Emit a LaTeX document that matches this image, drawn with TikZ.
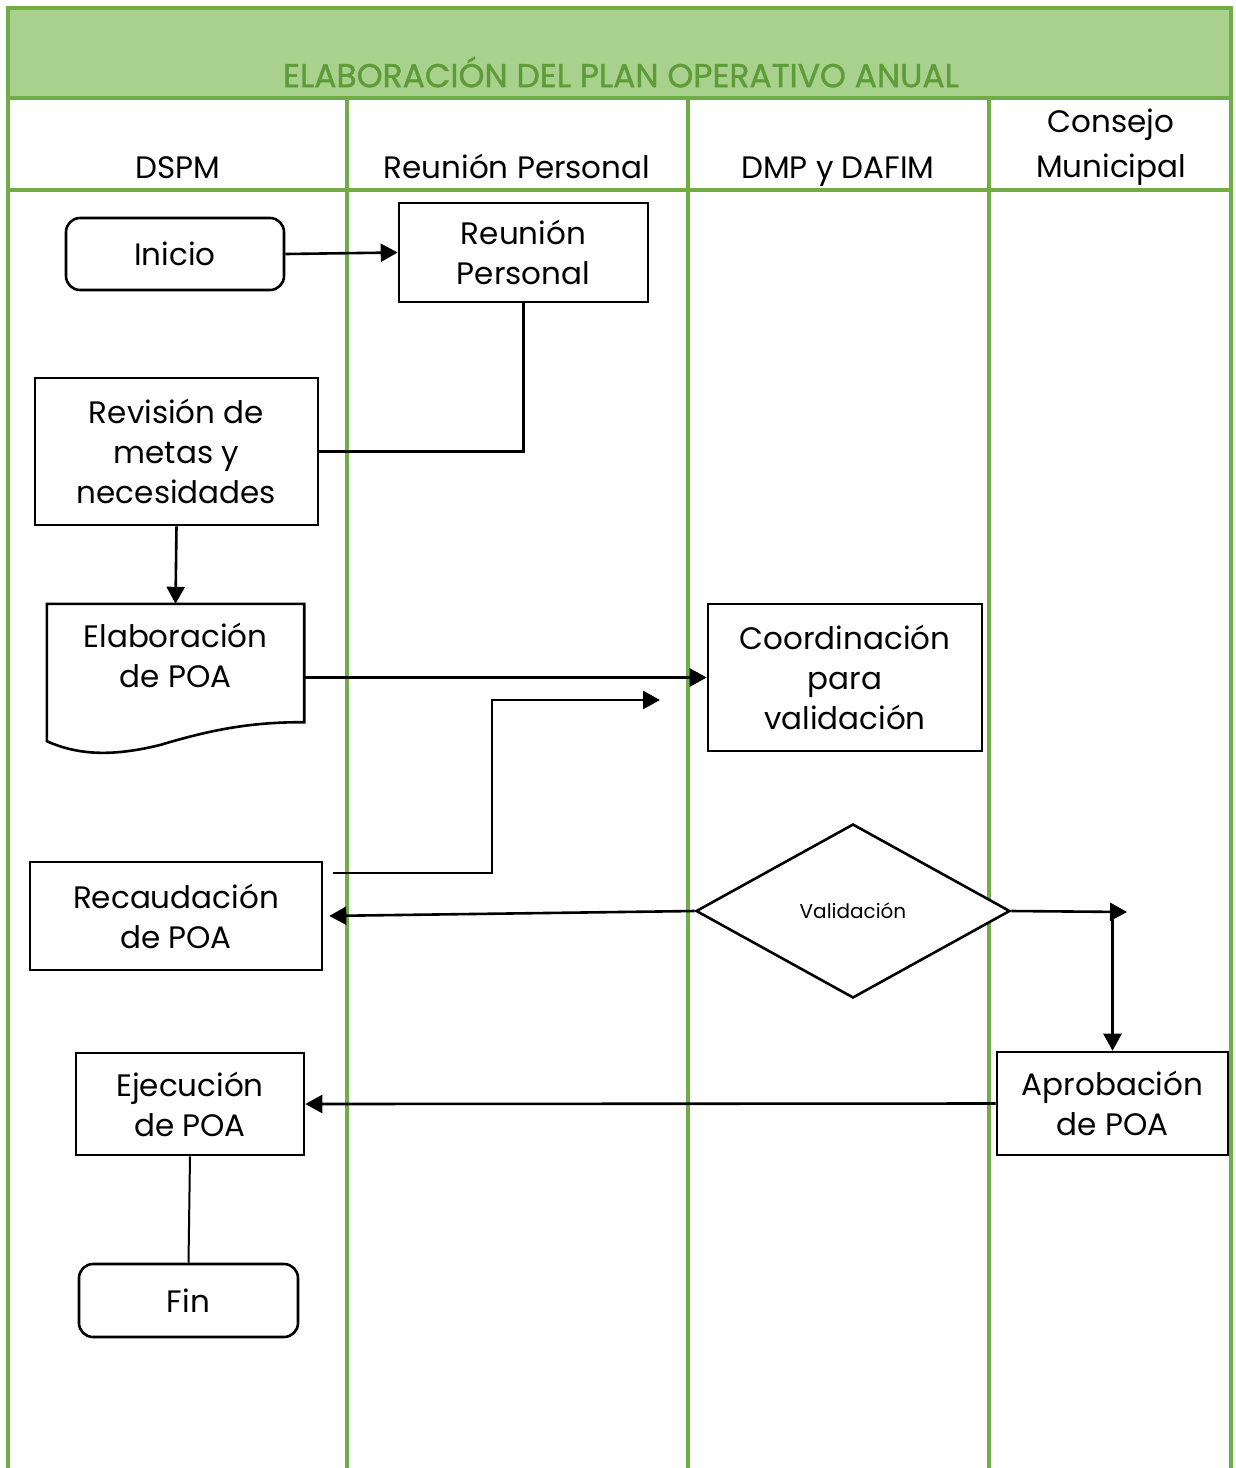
\documentclass[tikz,border=0pt]{standalone}
\usepackage{fontspec}
\setmainfont{Poppins}
\newfontfamily\titlefont[FakeBold=1.2]{Poppins}
\usetikzlibrary{arrows.meta,shapes.geometric}
\definecolor{lanegreen}{HTML}{70AD47}
\definecolor{bandgreen}{HTML}{A9D18E}
\definecolor{titlegreen}{HTML}{5E9C38}

\begin{document}
\begin{tikzpicture}[x=1pt,y=-1pt,
  lane/.style={draw=lanegreen,line width=4pt},
  txt/.style={font=\fontsize{31}{40}\selectfont,align=center},
  box/.style={txt,draw,fill=white,line width=2.6pt,inner sep=0pt},
  term/.style={box,rounded corners=14pt},
  flow/.style={line width=2.6pt,-{Triangle[length=17pt,width=18pt]}},
  link/.style={line width=2.6pt}]
\useasboundingbox (0,0) rectangle (1235,1468);
\fill[white] (0,0) rectangle (1235,1468);

% swimlane frame
\fill[bandgreen] (8,8) rectangle (1231,98);
\draw[lane] (6,8) -- (1233,8);
\draw[lane] (8,98) -- (1231,98);
\draw[lane] (8,190) -- (1231,190);
\draw[lane] (8,6) -- (8,1468);
\draw[lane] (1231,6) -- (1231,1468);
\draw[lane] (347,98) -- (347,1468);
\draw[lane] (688,98) -- (688,1468);
\draw[lane] (989,98) -- (989,1468);

\node[font=\titlefont\fontsize{33}{38}\selectfont,text=titlegreen] (title) at (621,72) {ELABORACIÓN DEL PLAN OPERATIVO ANUAL};

% lane headings
\node[txt,anchor=base] (h1) at (178,178) {DSPM};
\node[txt,anchor=base] (h2) at (517,178) {Reunión Personal};
\node[txt,anchor=base] (h3) at (838,178) {DMP y DAFIM};
\node[txt,font=\fontsize{31}{45}\selectfont] (h4) at (1111,147) {Consejo\\Municipal};

% process steps
\node[term,minimum width=218pt,minimum height=72pt] (ini) at (175,254) {Inicio};
\node[box,minimum width=249pt,minimum height=99pt] (reu) at (523.5,252.5) {Reunión\\Personal};
\node[box,minimum width=283pt,minimum height=147pt] (rev) at (176.5,451.5) {Revisión de\\metas y\\necesidades};
\node[minimum width=257pt,minimum height=118pt,inner sep=0pt] (elab) at (175.5,663) {};
\draw[line width=2.6pt,fill=white,line join=miter] (elab.south east) -- (elab.north east) -- (elab.north west) -- ([yshift=-19pt]elab.south west)
  .. controls (80,756) and (115,756) .. (160,745)
  .. controls (210,730) and (250,722) .. (elab.south east) -- cycle;
\node[txt] (elabtext) at ([yshift=8pt]elab.center) {Elaboración\\de POA};
\node[box,minimum width=274pt,minimum height=147pt] (coord) at (845,677.5) {Coordinación\\para\\validación};
\node[box,minimum width=292pt,minimum height=108pt] (rec) at (176,916) {Recaudación\\de POA};
\node[diamond,draw,fill=white,line width=2.6pt,inner sep=0pt,minimum width=314pt,minimum height=174pt,font=\fontsize{20}{24}\selectfont] (val) at (853,911) {Validación};
\node[box,minimum width=231pt,minimum height=103pt] (apr) at (1112.5,1103.5) {Aprobación\\de POA};
\node[box,minimum width=228pt,minimum height=102pt] (eje) at (190,1104) {Ejecución\\de POA};
\node[term,minimum width=219pt,minimum height=73pt] (fin) at (188.5,1300.5) {Fin};

% connectors
\coordinate (recout) at (333,873);
\coordinate (bend) at (492,700);
\coordinate (coordin) at (660,700);
\coordinate (valout) at (1127,912);

\draw[flow] (ini.east) -- (reu.west);
\draw[link] (reu.south) |- (rev.east);
\draw[flow] (rev.south) -- (elab.north);
\draw[flow] (elab.east |- coord.west) -- (coord.west);
\draw[flow] (recout) -| (bend) -- (coordin);
\draw[flow,shorten >=6pt] (val.west) -- (rec.east);
\draw[flow] (val.east) -- (valout);
\draw[flow] (val.east -| apr.north) -- (apr.north);
\draw[flow] (apr.west) -- (eje.east);
\draw[line width=2pt] (eje.south) -- (fin.north);
\end{tikzpicture}
\end{document}
